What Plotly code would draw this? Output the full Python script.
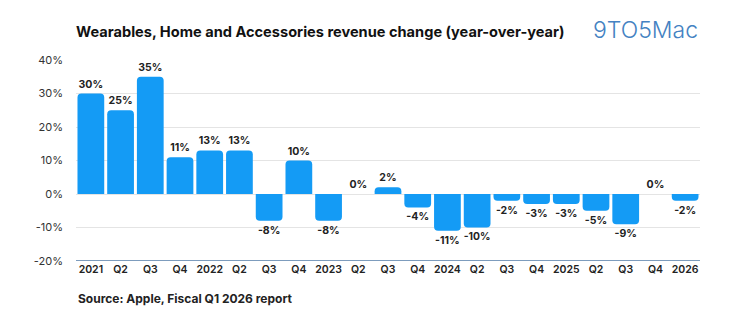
import plotly.graph_objects as go

# Quarter labels (fiscal year shown on Q1)
quarters = ["2021", "Q2", "Q3", "Q4", "2022", "Q2", "Q3", "Q4", "2023", "Q2", "Q3",
            "Q4", "2024", "Q2", "Q3", "Q4", "2025", "Q2", "Q3", "Q4", "2026"]
# Year-over-year revenue change, percent
yoy_change = [30, 25, 35, 11, 13, 13, -8, 10, -8, 0, 2,
              -4, -11, -10, -2, -3, -3, -5, -9, 0, -2]
y_ticks = [-20, -10, 0, 10, 20, 30, 40]

positions = list(range(len(quarters)))
labels = [f"{v}%" for v in yoy_change]

fig = go.Figure()
fig.add_trace(go.Bar(
    x=positions,
    y=yoy_change,
    marker=dict(color="#149bf5", line=dict(width=0)),
    text=labels,
    textposition="outside",
    textfont=dict(family="Inter", size=10.5, color="#222222", weight=700),
    cliponaxis=False,
    hoverinfo="skip",
))

fig.update_layout(
    width=750, height=336,
    margin=dict(l=76, r=50, t=60, b=75),
    paper_bgcolor="white", plot_bgcolor="white",
    bargap=0.1,
    barcornerradius=4,
    showlegend=False,
    font=dict(family="Inter", color="#222222"),
    xaxis=dict(
        tickmode="array", tickvals=positions, ticktext=quarters,
        range=[-0.5, len(quarters) - 0.5],
        tickfont=dict(size=10.5, color="#222222", weight=600),
        showgrid=False, zeroline=False, ticks="",
        showline=False,
    ),
    yaxis=dict(
        range=[-20, 40], tickvals=y_ticks,
        ticktext=[f"{t}%" for t in y_ticks],
        tickfont=dict(size=11, color="#333333"),
        showgrid=True, gridcolor="#e4e4e4", gridwidth=1,
        zeroline=False, ticks="", ticklen=0,
        ticklabelstandoff=12,
    ),
    shapes=[dict(type="line", xref="paper", yref="y", x0=0, x1=1, y0=-20, y1=-20,
                 line=dict(color="#7d9cbd", width=2))],
    annotations=[
        dict(text="Wearables, Home and Accessories revenue change (year-over-year)",
             xref="paper", yref="paper", x=0, y=1, xshift=-2, yshift=28,
             xanchor="left", yanchor="middle", showarrow=False,
             font=dict(family="Inter", size=14.6, color="#111111", weight=700)),
        dict(text="9TO5Mac", xref="paper", yref="paper", x=1, y=1, yshift=30,
             xanchor="right", yanchor="middle", showarrow=False,
             font=dict(family="Inter", size=23, color="#4482c2", weight=300)),
        dict(text="Source: Apple, Fiscal Q1 2026 report",
             xref="paper", yref="paper", x=0, y=0, xshift=0, yshift=-37,
             xanchor="left", yanchor="middle", showarrow=False,
             font=dict(family="Inter", size=12, color="#222222", weight=700)),
    ],
)

fig.write_html("out.html")
